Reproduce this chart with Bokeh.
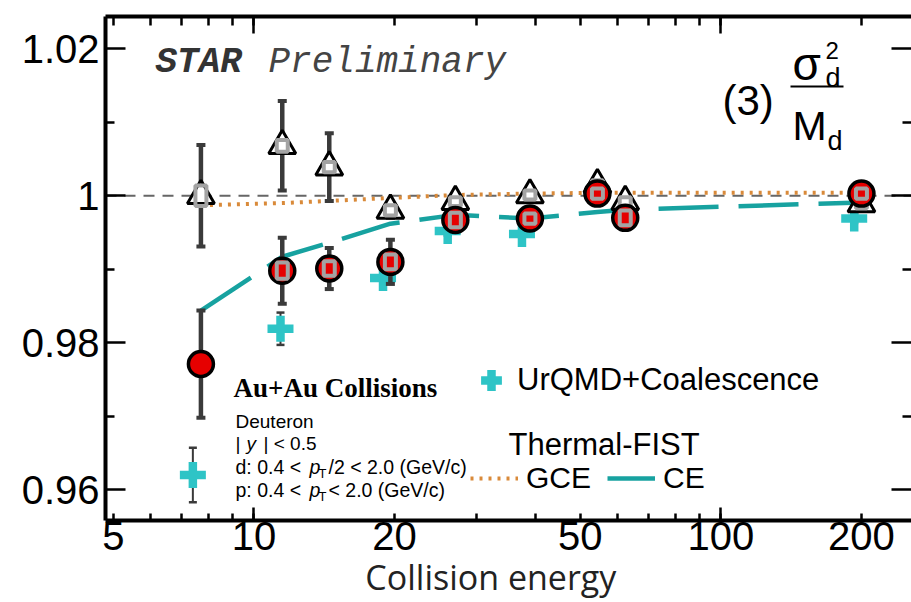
from bokeh.plotting import figure
from bokeh.models import (ColumnDataSource, Label, Legend, LegendItem, LinearAxis, LogAxis,
                          FixedTicker, CustomJSTickFormatter, Span, BoxAnnotation, Range1d)
from bokeh.embed import file_html
from bokeh.resources import INLINE

# ---------------- data ----------------
energy = [7.7, 11.5, 14.5, 19.6, 27, 39, 54.4, 62.4, 200]

# STAR deuteron sigma^2/M (red circles)
star_val = [0.9771, 0.9898, 0.9901, 0.9910, 0.9967, 0.9969, 1.0003, 0.9970, 1.0003]
star_stat = [0.0073, 0.0045, 0.0028, 0.0030, 0.0012, 0.0012, 0.0010, 0.0012, 0.0008]
star_sys = [None, 0.0011, 0.0010, 0.0010, 0.0010, 0.0007, 0.0007, 0.0010, 0.0007]

# open triangles
tri_val = [1.0000, 1.0068, 1.0039, 0.9980, 0.9992, 1.0001, 1.0015, 0.9992, 0.9989]
tri_stat = [0.0069, 0.0061, 0.0046, 0.0010, 0.0008, 0.0008, 0.0008, 0.0008, 0.0008]
tri_sys = [0.0014, 0.0008, 0.0007, 0.0007, 0.0006, 0.0006, 0.0006, 0.0006, 0.0006]

# UrQMD + Coalescence
urqmd_energy = [7.4, 11.4, 18.9, 26.0, 37.5, 193.0]
urqmd_val = [0.9620, 0.9819, 0.9888, 0.9952, 0.9948, 0.9969]
urqmd_err = [0.0037, 0.0022, 0.0008, 0.0006, 0.0006, 0.0006]

# Thermal-FIST
gce_val = [0.9987, 0.9990, 0.9993, 0.9997, 1.0001, 1.0003, 1.0004, 1.0004, 1.0004]
ce_val = [0.98435, 0.9917, 0.9936, 0.9962, 0.9974, 0.9969, 0.9978, 0.9981, 0.9991]

# ticks
x_tick_labels = [5, 10, 20, 50, 100, 200]
x_tick_minor = [6, 7, 8, 9, 30, 40, 60, 70, 80, 90]
x_tick_long = [10, 100]
y_tick_values = [0.96, 0.98, 1.0, 1.02]
y_tick_text = ["0.96", "0.98", "1", "1.02"]
y_tick_minor = [0.97, 0.99, 1.01]

# ---------------- styles ----------------
RED = "#e60000"
CYAN = "#2ec4c6"
TEAL = "#17a2a0"
ORANGE = "#d98a3a"
BAR = "#3a3a3a"
SYS = "#a3a3a3"
FONT = "Liberation Sans"

FL, FB = 105, 520  # frame left / bottom in canvas px

p = figure(width=911, height=602, x_axis_type="log",
           x_range=Range1d(4.81, 256), y_range=Range1d(0.9558, 1.0244),
           output_backend="svg", toolbar_location=None,
           min_border_left=FL, min_border_right=0, min_border_top=16, min_border_bottom=82,
           outline_line_color=None, background_fill_color="white", border_fill_color="white")
p.grid.visible = False

x_ticker = FixedTicker(ticks=sorted(x_tick_labels + x_tick_minor), minor_ticks=x_tick_long)
y_ticker = FixedTicker(ticks=y_tick_values, minor_ticks=y_tick_minor)

xa = p.xaxis[0]
xa.ticker = x_ticker
xa.formatter = CustomJSTickFormatter(args=dict(keep=x_tick_labels),
                                     code="return keep.includes(tick) ? String(tick) : '';")
ya = p.yaxis[0]
ya.ticker = y_ticker
ya.formatter = CustomJSTickFormatter(args=dict(vals=y_tick_values, txt=y_tick_text),
    code="for (let i=0;i<vals.length;i++){ if (Math.abs(vals[i]-tick)<1e-9) return txt[i]; } return '';")

for ax in (xa, ya):
    ax.axis_line_width = 4
    ax.axis_line_color = "black"
    ax.major_tick_out = 0
    ax.minor_tick_out = 0
    ax.major_tick_line_width = 2.5
    ax.minor_tick_line_width = 2.5
    ax.major_label_text_font = FONT
    ax.major_label_text_font_size = "40px"
    ax.major_label_text_color = "black"
xa.major_tick_in = 7
xa.minor_tick_in = 13
xa.major_label_standoff = 1
xa.axis_label = "Collision energy" + "\u00a0" * 4
xa.axis_label_text_font = "Open Sans"
xa.axis_label_text_font_size = "34px"
xa.axis_label_text_font_style = "normal"
xa.axis_label_text_color = "#222222"
xa.axis_label_standoff = 1
ya.major_tick_in = 20
ya.minor_tick_in = 9
ya.major_label_standoff = 6

empty = CustomJSTickFormatter(code="return '';")
ta = LogAxis(ticker=x_ticker, formatter=empty, axis_line_width=4, major_tick_in=9, major_tick_out=0,
             minor_tick_in=17, minor_tick_out=0, major_tick_line_width=2.5, minor_tick_line_width=2.5,
             major_label_text_font_size="0px", major_label_standoff=0)
p.add_layout(ta, "above")
ra = LinearAxis(ticker=y_ticker, formatter=empty, axis_line_color=None, major_tick_in=20, major_tick_out=0,
                minor_tick_in=9, minor_tick_out=0, major_tick_line_width=2.5, minor_tick_line_width=2.5,
                major_label_text_font_size="0px", major_label_standoff=0)
p.add_layout(ra, "right")

# reference line at 1
p.add_layout(Span(location=1.0, dimension="width", line_color="#666666", line_width=2,
                  line_dash="11 8", level="underlay"))

# Thermal-FIST curves
r_gce = p.line(energy, gce_val, line_color=ORANGE, line_width=4, line_dash="3 6")
r_ce = p.line(energy, ce_val, line_color=TEAL, line_width=4.5, line_dash="60 20")

# UrQMD
u_src = ColumnDataSource(dict(x=urqmd_energy, y=urqmd_val,
                              lo=[v - e for v, e in zip(urqmd_val, urqmd_err)],
                              hi=[v + e for v, e in zip(urqmd_val, urqmd_err)]))
p.segment(x0="x", x1="x", y0="lo", y1="hi", source=u_src, line_color=BAR, line_width=2)
p.scatter("x", "lo", source=u_src, marker="dash", size=8, line_color=BAR, line_width=2.5)
p.scatter("x", "hi", source=u_src, marker="dash", size=8, line_color=BAR, line_width=2.5)
r_urqmd = p.scatter("x", "y", source=u_src, marker="cross", size=26, line_color=CYAN, line_width=8.5)

# triangles
t_src = ColumnDataSource(dict(x=energy, y=tri_val,
                              lo=[v - e for v, e in zip(tri_val, tri_stat)],
                              hi=[v + e for v, e in zip(tri_val, tri_stat)],
                              h=[2 * s for s in tri_sys]))
p.segment(x0="x", x1="x", y0="lo", y1="hi", source=t_src, line_color=BAR, line_width=4.5)
p.scatter("x", "lo", source=t_src, marker="dash", size=9, line_color=BAR, line_width=4)
p.scatter("x", "hi", source=t_src, marker="dash", size=9, line_color=BAR, line_width=4)
p.scatter("x", "y", source=t_src, marker="triangle", size=27, fill_color="white",
          line_color="black", line_width=3)
p.rect("x", "y", width=11, width_units="screen", height="h", source=t_src,
       fill_color=None, line_color=SYS, line_width=4)

# STAR circles
s_src = ColumnDataSource(dict(x=energy, y=star_val,
                              lo=[v - e for v, e in zip(star_val, star_stat)],
                              hi=[v + e for v, e in zip(star_val, star_stat)]))
p.segment(x0="x", x1="x", y0="lo", y1="hi", source=s_src, line_color=BAR, line_width=4.5)
p.scatter("x", "lo", source=s_src, marker="dash", size=9, line_color=BAR, line_width=4)
p.scatter("x", "hi", source=s_src, marker="dash", size=9, line_color=BAR, line_width=4)
p.scatter("x", "y", source=s_src, marker="circle", size=25, fill_color=RED,
          line_color="black", line_width=3.5)
sb = [(e, v, s) for e, v, s in zip(energy, star_val, star_sys) if s is not None]
sb_src = ColumnDataSource(dict(x=[b[0] for b in sb], y=[b[1] for b in sb], h=[2 * b[2] for b in sb]))
p.rect("x", "y", width=11, width_units="screen", height="h", source=sb_src,
       fill_color=None, line_color=SYS, line_width=4)

# ---------------- legends ----------------
leg1 = Legend(items=[LegendItem(label="UrQMD+Coalescence", renderers=[r_urqmd])],
              location=(465 - FL, FB - 408), glyph_width=52, glyph_height=56,
              label_text_font=FONT, label_text_font_size="31px", label_text_color="black",
              label_standoff=0, padding=0, margin=0, spacing=0,
              border_line_color=None, background_fill_alpha=0)
p.add_layout(leg1)
leg2 = Legend(items=[LegendItem(label="GCE", renderers=[r_gce]), LegendItem(label="CE", renderers=[r_ce])],
              orientation="horizontal", location=(470 - FL, FB - 495), glyph_width=48, glyph_height=34,
              label_text_font=FONT, label_text_font_size="30px", label_text_color="black",
              label_standoff=8, padding=0, margin=0, spacing=16,
              border_line_color=None, background_fill_alpha=0)
p.add_layout(leg2)


def lab(text, px, py, size, font=FONT, style="normal", color="black", align="left"):
    p.add_layout(Label(x=px - FL, y=FB - py, x_units="screen", y_units="screen", text=text,
                       text_font=font, text_font_size=f"{size}px", text_font_style=style,
                       text_color=color, text_align=align, text_baseline="alphabetic"))


# STAR Preliminary
lab("STAR", 155, 62, 36, font="Liberation Mono", style="bold italic", color="#333333")
lab("Preliminary", 268, 62, 36, font="Liberation Mono", style="italic", color="#444444")

# (3) sigma^2_d / M_d
lab("(3)", 722, 100, 42)
lab("σ", 792, 63, 46)
lab("2", 825, 50, 24)
lab("d", 825, 77, 27)
p.add_layout(BoxAnnotation(left=790 - FL, right=843 - FL, bottom=FB - 87, top=FB - 85,
                           left_units="screen", right_units="screen", bottom_units="screen",
                           top_units="screen", fill_color="black", fill_alpha=1, line_color=None))
lab("M", 792, 125, 41)
lab("d", 827, 140, 27)

# Collision info
lab("Au+Au Collisions", 233, 387, 27, font="Liberation Serif", style="bold")
lab("Deuteron", 235, 421, 19)
lab("|", 235, 443, 19)
lab("y", 246, 443, 19, style="italic")
lab("| < 0.5", 263, 443, 19)
lab("d: 0.4 < ", 235, 466, 19.5)
lab("p", 309, 466, 19.5, style="italic")
lab("T", 318, 473, 13)
lab("/2 < 2.0 (GeV/c)", 328, 466, 19.5)
lab("p: 0.4 < ", 235, 489, 19.5)
lab("p", 309, 489, 19.5, style="italic")
lab("T", 318, 496, 13)
lab(" < 2.0 (GeV/c)", 328, 489, 19.5)

lab("Thermal-FIST", 508, 444, 31)

open("out.html", "w").write(file_html(p, INLINE))
